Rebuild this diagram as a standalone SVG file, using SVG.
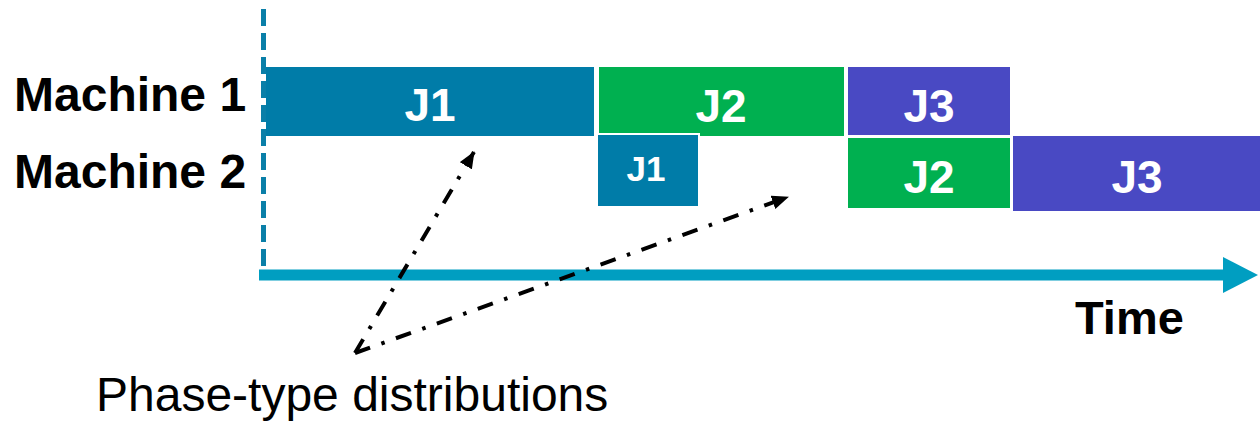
<svg xmlns="http://www.w3.org/2000/svg" width="1260" height="422" viewBox="0 0 1260 422">
  <defs>
    <style>
      .lbl { font-family: "Liberation Sans", Arial, sans-serif; font-weight: bold; fill: #000; }
      .job { font-family: "Liberation Sans", Arial, sans-serif; font-weight: bold; fill: #fff; text-anchor: middle; }
      .bar { stroke: #fff; stroke-width: 2; }
      .blue { fill: #007CA8; }
      .green { fill: #00B050; }
      .purple { fill: #4949C3; }
      .dd { fill: none; stroke: #000; stroke-width: 4; stroke-dasharray: 16 12 3.5 12; }
    </style>
    <marker id="ah" markerUnits="userSpaceOnUse" markerWidth="18" markerHeight="14" refX="16" refY="7" orient="auto">
      <path d="M0,0 L17,7 L0,14 Z" fill="#000"/>
    </marker>
  </defs>
  <rect width="1260" height="422" fill="#fff"/>

  <g id="m1-j1"><rect class="bar blue" x="265" y="66" width="330" height="71"/><text class="job" x="430" y="121" font-size="46">J1</text></g>
  <g id="m1-j2"><rect class="bar green" x="598" y="66" width="247" height="71"/><text class="job" x="721" y="122" font-size="46">J2</text></g>
  <g id="m1-j3"><rect class="bar purple" x="847" y="66" width="164" height="70"/><text class="job" x="929" y="122" font-size="46">J3</text></g>
  <g id="m2-j1"><rect class="bar blue" x="597" y="134" width="102" height="73"/><text class="job" x="646" y="181" font-size="35">J1</text></g>
  <g id="m2-j2"><rect class="bar green" x="847" y="137" width="164" height="72"/><text class="job" x="929" y="193" font-size="46">J2</text></g>
  <g id="m2-j3"><rect class="bar purple" x="1012" y="135" width="250" height="77"/><text class="job" x="1137" y="193" font-size="46">J3</text></g>

  <g id="axes">
    <line x1="263.5" y1="9" x2="263.5" y2="279" stroke="#0A7FA8" stroke-width="5" stroke-dasharray="17 7"/>
    <line x1="259" y1="275" x2="1225" y2="275" stroke="#009EC1" stroke-width="11"/>
    <polygon points="1223,257 1258,275 1223,293" fill="#009EC1"/>
  </g>

  <g id="labels">
    <text class="lbl" x="14" y="111" font-size="48">Machine 1</text>
    <text class="lbl" x="14" y="188" font-size="48">Machine 2</text>
    <text class="lbl" x="1075" y="334" font-size="47">Time</text>
  </g>

  <g id="connectors">
    <line class="dd" x1="355" y1="353" x2="474" y2="152" marker-end="url(#ah)"/>
    <line class="dd" x1="355" y1="353" x2="788" y2="197" marker-end="url(#ah)"/>
  </g>

  <g id="phase-label">
    <text x="96" y="411" font-family="'Liberation Sans', Arial, sans-serif" font-size="48" fill="#000">Phase-type distributions</text>
  </g>
</svg>
